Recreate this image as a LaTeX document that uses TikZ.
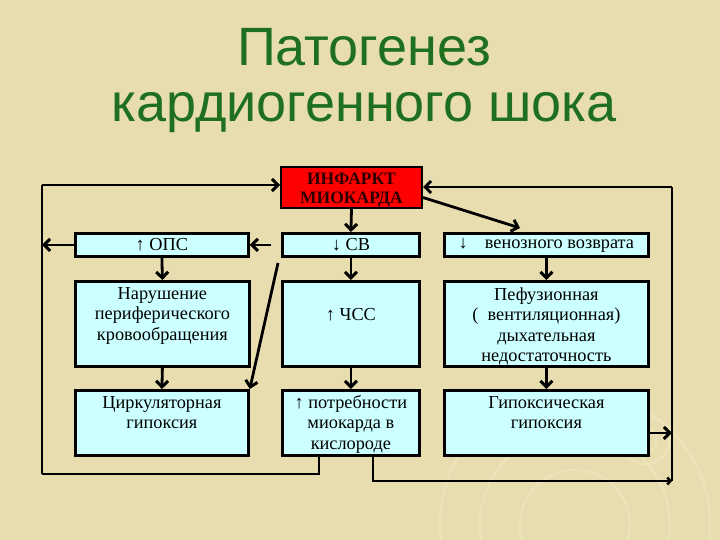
\documentclass[tikz,border=0pt]{standalone}
\usepackage{fontspec}
\setmainfont{Liberation Serif}
\newfontfamily\titlefont{Liberation Sans}
\usetikzlibrary{arrows.meta,calc}
\definecolor{bg}{RGB}{232,221,174}
\definecolor{ring}{RGB}{239,230,192}
\definecolor{boxfill}{RGB}{204,255,255}
\definecolor{titlegreen}{RGB}{30,112,30}
\definecolor{infred}{RGB}{255,0,0}
\definecolor{inftext}{RGB}{45,0,0}
\newcommand{\boxtxt}[4]{\parbox[c][#2][t]{#1}{\centering\fontsize{18.3}{20.5}\selectfont\rule{0pt}{#3}#4\par}}
\begin{document}
\begin{tikzpicture}[x=1pt,y=-1pt,
  tbox/.style={draw=black,line width=2.8pt,fill=boxfill,inner sep=0pt,anchor=north west,
    font=\fontsize{18.3}{20.5}\selectfont},
  arr/.style={line width=2.8pt,-{Straight Barb[length=6pt,width=12pt,line width=3pt]}},
  loopline/.style={line width=2.6pt},
  thinloop/.style={line width=1.6pt}]
\useasboundingbox (0,0) rectangle (720,540);
\fill[bg] (0,0) rectangle (720,540);
% decorative rings
\begin{scope}[ring,line width=2.5pt,opacity=0.7]
\draw (575,525) circle[radius=55];
\draw (575,525) circle[radius=95];
\draw (575,525) circle[radius=135];
\draw (645,440) circle[radius=24];
\draw (645,440) circle[radius=12];
\end{scope}
% title
\node[font=\titlefont\fontsize{54}{56}\selectfont,text=titlegreen,align=center,anchor=base] (title) at (364,122)
  {Патогенез\\кардиогенного шока};
% boxes
\node[draw=black,line width=2pt,fill=infred,inner sep=0pt,minimum width=141pt,minimum height=41pt,
  anchor=north west,align=center,text=inftext,font=\bfseries\fontsize{17.5}{19.5}\selectfont] (inf) at (280,166)
  {\rule{0pt}{17pt}ИНФАРКТ\\МИОКАРДА};
\node[tbox,minimum width=173pt,minimum height=23pt] (ops) at (74,232) {↑ ОПС};
\node[tbox,minimum width=137pt,minimum height=23pt] (sv) at (281,232) {↓ СВ};
\node[tbox,minimum width=204pt,minimum height=23pt] (ven) at (443,232) {↓\hspace{17pt}венозного возврата\hspace{10pt}};
\node[tbox] (nar) at (74,280) {\boxtxt{174pt}{85pt}{18pt}{Нарушение\\периферического\\кровообращения}};
\node[tbox] (chss) at (281,280) {\boxtxt{137pt}{85pt}{39pt}{↑ ЧСС}};
\node[tbox] (pef) at (443,280) {\boxtxt{204pt}{85pt}{19pt}{Пефузионная\\(\ \ вентиляционная)\\дыхательная\\недостаточность}};
\node[tbox] (cirk) at (74,389) {\boxtxt{173pt}{65pt}{18pt}{Циркуляторная\\гипоксия}};
\node[tbox] (potr) at (281,389) {\boxtxt{137pt}{65pt}{18pt}{↑ потребности\\миокарда в\\кислороде}};
\node[tbox] (gip) at (443,389) {\boxtxt{204pt}{65pt}{18pt}{Гипоксическая\\гипоксия}};
% coordinates
\coordinate (lb) at (42,474);
\coordinate (lt) at (42,185);
\coordinate (rb) at (672,481);
\coordinate (rt) at (672,187);
\coordinate (dstart) at (278,263);
\coordinate (vtip) at (520,228);
% vertical arrows
\draw[arr] (inf.south) -- (sv.north);
\draw[arr] (sv.south) -- (chss.north);
\draw[arr] (chss.south) -- (potr.north);
\draw[arr] (ops.south) -- (nar.north);
\draw[arr] (nar.south) -- (cirk.north);
\draw[arr] (ven.south) -- (pef.north);
\draw[arr] (pef.south) -- (gip.north);
% other arrows
\draw[arr] ([xshift=-10pt]sv.west) -- (ops.east);
\draw[arr] (dstart) -- (cirk.north east);
\draw[arr] ([yshift=-10pt]inf.east) -- (vtip);
% left loop
\draw[loopline] ([xshift=-32pt]potr.south) |- (lb);
\draw[thinloop] (lb) -- (lt);
\draw[arr] (lt) -- (lt -| inf.west);
\draw[arr] (ops.west) -- (ops.west -| lt);
% right loop
\draw[loopline,-{Straight Barb[length=3pt,width=7pt]}] ([xshift=22pt]potr.south) |- (rb);
\draw[loopline] (rb) -- (rt);
\draw[arr] (rt) -- (rt -| inf.east);
\draw[arr] ([yshift=-10pt]gip.east) -- ([yshift=-10pt]gip.east -| rb);
\end{tikzpicture}
\end{document}
